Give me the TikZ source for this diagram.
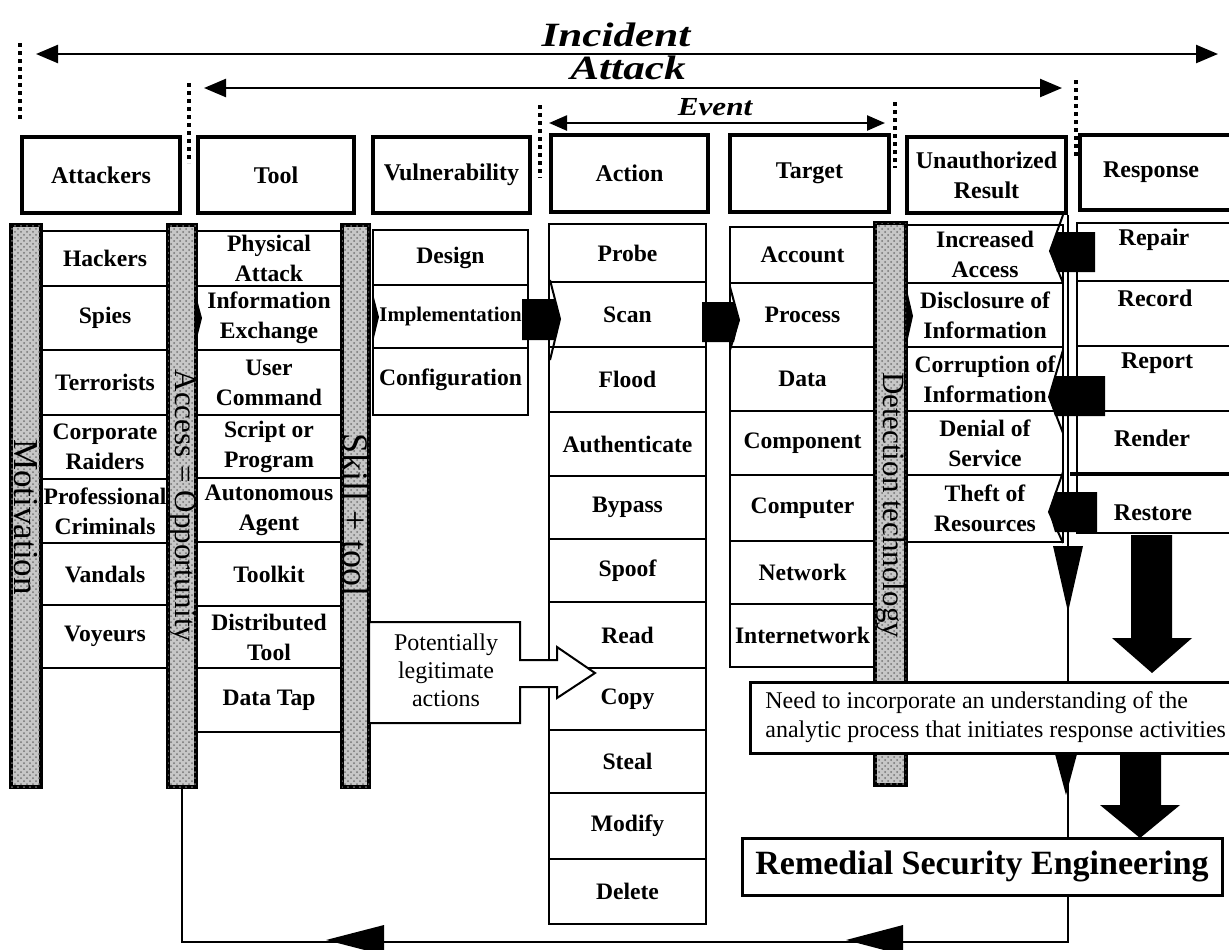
\documentclass[tikz,border=0pt]{standalone}
\usepackage{fontspec}
\usepackage{graphicx}
\setmainfont{Liberation Serif}
\usetikzlibrary{arrows.meta,patterns}
\newcommand\mkcell[7][]{%
  \pgfmathsetmacro\cx{(#3+#4)/2}\pgfmathsetmacro\cy{(#5+#6)/2}%
  \pgfmathsetmacro\cw{(#4-#3)/2}\pgfmathsetmacro\ch{(#6-#5)/2}%
  \node[cell,minimum width=\cw pt,minimum height=\ch pt,#1] (#2) at (\cx,\cy) {#7};}
\begin{document}
\begin{tikzpicture}[x=0.5pt,y=-0.5pt,
  hdr/.style={draw, line width=2.2pt, fill=white, inner sep=0pt, align=center, font=\bfseries\fontsize{12}{15}\selectfont},
  cell/.style={draw, line width=1pt, inner sep=0pt, align=center, font=\bfseries\fontsize{11.8}{15}\selectfont},
  bar/.style={draw, line width=1.6pt, fill=black!22, postaction={pattern=crosshatch dots, pattern color=black!55}, inner sep=0pt},
  bartext/.style={rotate=-90, inner sep=0pt, font=\fontsize{#1}{#1}\selectfont},
  dotline/.style={line width=2.4pt, dash pattern=on 2.2pt off 1.8pt},
  span/.style={line width=1.2pt, {Triangle[length=11pt,width=9pt]}-{Triangle[length=11pt,width=9pt]}},
  spanS/.style={line width=1.2pt, {Triangle[length=9pt,width=7.5pt]}-{Triangle[length=9pt,width=7.5pt]}},
  ttl/.style={anchor=base, inner sep=0pt, font=\bfseries\itshape\fontsize{#1}{#1}\selectfont},
  flow/.style={line width=1pt},
  plain/.style={inner sep=0pt, align=center, font=\bfseries\fontsize{12}{15}\selectfont}
]
\useasboundingbox (0,0) rectangle (1229,949);

% ---------- titles and spans ----------
\node[ttl=17] (tInc) at (616,46) {\scalebox{1.27}[1]{Incident}};
\node[ttl=17] (tAtt) at (628,79) {\scalebox{1.27}[1]{Attack}};
\node[ttl=13] (tEv) at (715,115) {\scalebox{1.2}[1]{Event}};
\coordinate (incL) at (36,54);  \coordinate (incR) at (1218,54);
\coordinate (attL) at (204,88); \coordinate (attR) at (1062,88);
\coordinate (evL) at (549,123); \coordinate (evR) at (885,123);
\draw[span] (incL) -- (incR);
\draw[span] (attL) -- (attR);
\draw[spanS] (evL) -- (evR);
\draw[dotline] (20,43) -- (20,122);
\draw[dotline] (189,83) -- (189,163);
\draw[dotline] (540,105) -- (540,178);
\draw[dotline] (895,102) -- (895,168);
\draw[dotline] (1076,80) -- (1076,157);

% ---------- headers ----------
\node[hdr, minimum width=79pt, minimum height=38pt] (hAtk) at (101,175) {Attackers};
\node[hdr, minimum width=78pt, minimum height=38pt] (hTool) at (276,175) {Tool};
\node[hdr, minimum width=78.5pt, minimum height=38pt] (hVul) at (451.5,175) {Vulnerability};
\node[hdr, minimum width=78.5pt, minimum height=38.5pt] (hAct) at (629.5,173.5) {Action};
\node[hdr, minimum width=79.5pt, minimum height=38.5pt] (hTgt) at (809.5,173.5) {Target};
\node[hdr, minimum width=79.5pt, minimum height=38pt] (hUR) at (986.5,175) {Unauthorized\\Result};
\node[hdr, minimum width=82.5pt, minimum height=37.5pt] (hResp) at (1162.5,172.5) {};
\node[plain] (hRespT) at (1151,172) {Response};

% ---------- columns ----------
\mkcell{aHack}{42}{168}{231}{286}{Hackers}
\mkcell{aSpies}{42}{168}{286}{350}{Spies}
\mkcell{aTerr}{42}{168}{350}{415}{Terrorists}
\mkcell{aCorp}{42}{168}{415}{479}{Corporate\\Raiders}
\mkcell{aProf}{42}{168}{479}{543}{Professional\\Criminals}
\mkcell{aVand}{42}{168}{543}{605}{Vandals}
\mkcell{aVoy}{42}{168}{605}{668}{Voyeurs}

\mkcell{tPhys}{195}{343}{231}{286}{Physical\\Attack}
\mkcell{tInfo}{195}{343}{286}{350}{Information\\Exchange}
\mkcell{tUser}{195}{343}{350}{415}{User\\Command}
\mkcell{tScr}{195}{343}{415}{478}{Script or\\Program}
\mkcell{tAuto}{195}{343}{478}{542}{Autonomous\\Agent}
\mkcell{tKit}{195}{343}{542}{606}{Toolkit}
\mkcell{tDist}{195}{343}{606}{668}{Distributed\\Tool}
\mkcell{tTap}{195}{343}{668}{732}{Data Tap}

\mkcell{vDes}{373}{528}{230}{285}{Design}
\mkcell[font=\bfseries\fontsize{10.4}{12}\selectfont]{vImp}{373}{528}{285}{348}{Implementation}
\mkcell[text depth=4pt]{vConf}{373}{528}{348}{415}{Configuration}

\mkcell{cProbe}{549}{706}{224}{282}{Probe}
\mkcell{cScan}{549}{706}{282}{347}{Scan}
\mkcell{cFlood}{549}{706}{347}{412}{Flood}
\mkcell{cAuth}{549}{706}{412}{476}{Authenticate}
\mkcell{cByp}{549}{706}{476}{539}{Bypass}
\mkcell{cSpoof}{549}{706}{539}{602}{Spoof}
\mkcell{cRead}{549}{706}{602}{668}{Read}
\mkcell{cCopy}{549}{706}{668}{730}{Copy}
\mkcell{cSteal}{549}{706}{730}{793}{Steal}
\mkcell{cMod}{549}{706}{793}{859}{Modify}
\mkcell{cDel}{549}{706}{859}{924}{Delete}

\mkcell{gAcc}{730}{875}{227}{283}{Account}
\mkcell{gProc}{730}{875}{283}{347}{Process}
\mkcell{gData}{730}{875}{347}{411}{Data}
\mkcell{gComp}{730}{875}{411}{475}{Component}
\mkcell{gCmp}{730}{875}{475}{541}{Computer}
\mkcell{gNet}{730}{875}{541}{604}{Network}
\mkcell{gInet}{730}{875}{604}{667}{Internetwork}

\mkcell{uInc}{907}{1063}{225}{283}{Increased\\Access}
\mkcell{uDis}{907}{1063}{283}{347}{Disclosure of\\Information}
\mkcell{uCor}{907}{1063}{347}{411}{Corruption of\\Information}
\mkcell{uDen}{907}{1063}{411}{475}{Denial of\\Service}
\mkcell{uThe}{907}{1063}{475}{542}{Theft of\\Resources}

\mkcell{rRep}{1077}{1240}{223}{281}{}
\mkcell{rRec}{1077}{1240}{281}{346}{}
\mkcell{rRpt}{1077}{1240}{346}{411}{}
\mkcell{rRen}{1077}{1240}{411}{474}{}
\mkcell{rRes}{1077}{1240}{474}{533}{}
\draw[line width=1.8pt] (1070,474) -- (1235,474);
\node[plain] (rRepT) at (1154,240) {Repair};
\node[plain] (rRecT) at (1155,298) {Record};
\node[plain] (rRptT) at (1157,363) {Report};
\node[plain] (rRenT) at (1152,438) {Render};
\node[plain] (rResT) at (1153,513) {Restore};

% ---------- shaded bars ----------
\node[bar, minimum width=15pt, minimum height=281pt] (mot) at (26,506) {};
\node[bar, minimum width=14pt, minimum height=281pt] (acc) at (182,506) {};
\node[bar, minimum width=13.5pt, minimum height=281pt] (skl) at (355.5,506) {};
\node[bar, minimum width=15.5pt, minimum height=281pt] (det) at (890.5,504) {};
\node[bartext=17.5] (motT) at (26,517) {Motivation};
\node[bartext=15.5] (accT) at (182,506) {Access = Opportunity};
\node[bartext=18] (sklT) at (356,515) {Skill + tool};
\node[bartext=15.5] (detT) at (891,505) {Detection technology};

% ---------- chevrons ----------
\fill (195,292) -- (202,318) -- (195,346) -- cycle;
\fill (372,290) -- (379,317) -- (372,346) -- cycle;
\fill (522,299) -- (555,299) -- (560,319) -- (555,340) -- (522,340) -- cycle;
\draw[flow] (550,280) -- (560,319) -- (550,360);
\fill (702,302) -- (734,302) -- (739,320) -- (734,342) -- (702,342) -- cycle;
\draw[flow] (730,287) -- (739,320) -- (730,350);
\fill (907,290) -- (913,316) -- (907,343) -- cycle;

\draw[flow] (1063,215) -- (1050,251) -- (1063,283);
\fill (1095,232) -- (1057,232) -- (1050,251) -- (1057,272) -- (1095,272) -- cycle;
\draw[flow] (1063,350) -- (1049,397) -- (1063,433);
\fill (1105,376) -- (1055,376) -- (1049,397) -- (1055,416) -- (1105,416) -- cycle;
\draw[flow] (1063,472) -- (1049,512) -- (1063,543);
\fill (1097,492) -- (1055,492) -- (1049,512) -- (1055,532) -- (1097,532) -- cycle;

% ---------- potentially legitimate actions ----------
\draw[line width=1pt, fill=white] (369,622) -- (520,622) -- (520,660) -- (557,660) -- (557,647)
  -- (595,673) -- (557,698) -- (557,687) -- (520,687) -- (520,723) -- (369,723) -- cycle;
\node[inner sep=0pt, align=center, font=\fontsize{12}{14}\selectfont] (potT) at (446,670) {Potentially\\legitimate\\actions};

% ---------- remedial boxes and flow ----------
\node[draw, line width=1.5pt, minimum width=240pt, minimum height=28.5pt, inner sep=0pt,
  font=\bfseries\fontsize{17}{17}\selectfont] (rse) at (982,866.5) {Remedial Security Engineering};
\draw[flow] (hUR.south east) -- (hUR.south east |- rse.north);
\fill (1053,546) -- (1083,546) -- (1068,612) -- cycle;
\fill (1131,535) -- (1172,535) -- (1172,638) -- (1192,638) -- (1152,673) -- (1112,638) -- (1131,638) -- cycle;
\node[draw, line width=1.5pt, fill=white, minimum width=245pt, minimum height=35.5pt, inner sep=0pt] (need) at (995,717.5) {};
\node[anchor=west, inner sep=0pt, align=left, font=\fontsize{12}{14.5}\selectfont] (needT) at (765,717)
  {Need to incorporate an understanding of the\\analytic process that initiates response activities};
\fill (1055,754) -- (1077,754) -- (1066,795) -- cycle;
\fill (1120,754) -- (1161,754) -- (1161,805) -- (1180,805) -- (1140,838) -- (1100,805) -- (1120,805) -- cycle;
\draw[flow] (rse.south -| hUR.south east) -- ++(0,45) -| (acc.south);
\fill (326,940) -- (384,925) -- (384,955) -- cycle;
\fill (846,940) -- (903,925) -- (903,955) -- cycle;
\end{tikzpicture}
\end{document}
